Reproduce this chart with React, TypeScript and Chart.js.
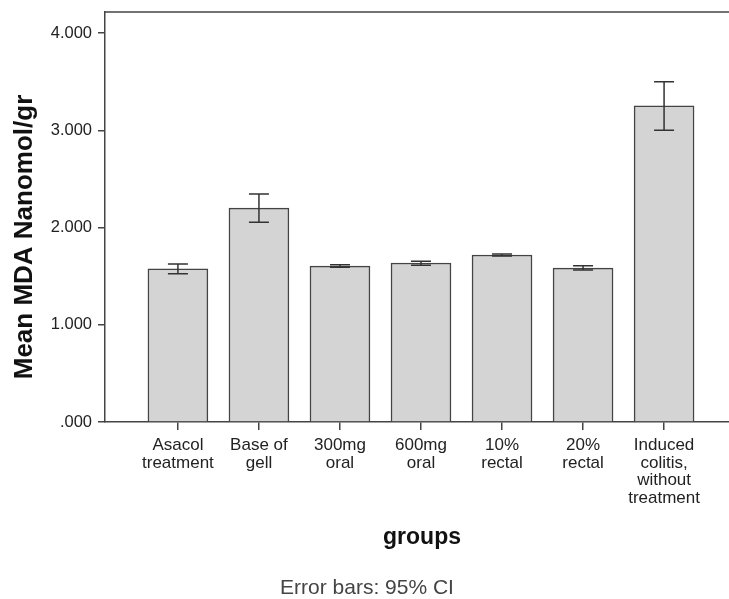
import React, { useEffect, useRef } from "react";
import { Chart, registerables } from "chart.js";

Chart.register(...registerables);

const categories: string[][] = [
  ["Asacol", "treatment"],
  ["Base of", "gell"],
  ["300mg", "oral"],
  ["600mg", "oral"],
  ["10%", "rectal"],
  ["20%", "rectal"],
  ["Induced", "colitis,", "without", "treatment"],
];
const meanValues = [1.575, 2.2, 1.603, 1.635, 1.717, 1.583, 3.25];
const ciLower = [1.525, 2.055, 1.59, 1.612, 1.707, 1.563, 3.0];
const ciUpper = [1.625, 2.345, 1.616, 1.652, 1.727, 1.607, 3.5];
const yTicks = [0, 1, 2, 3, 4];
const yTickLabels = [".000", "1.000", "2.000", "3.000", "4.000"];

const FONT = "Arial, 'Liberation Sans', sans-serif";

const decorPlugin = {
  id: "decor",
  afterDatasetsDraw(chart: any) {
    const { ctx, chartArea, scales } = chart;
    const xs = scales.x;
    const ys = scales.y;
    ctx.save();
    ctx.strokeStyle = "#333";
    ctx.lineWidth = 1.5;
    meanValues.forEach((_, i) => {
      const x = xs.getPixelForValue(i + 1);
      const yl = ys.getPixelForValue(ciLower[i]);
      const yu = ys.getPixelForValue(ciUpper[i]);
      ctx.beginPath();
      ctx.moveTo(x, yl);
      ctx.lineTo(x, yu);
      ctx.moveTo(x - 10, yl);
      ctx.lineTo(x + 10, yl);
      ctx.moveTo(x - 10, yu);
      ctx.lineTo(x + 10, yu);
      ctx.stroke();
    });
    ctx.strokeStyle = "#444";
    ctx.lineWidth = 1.5;
    ctx.beginPath();
    ctx.moveTo(chartArea.left, chartArea.top);
    ctx.lineTo(chartArea.right, chartArea.top);
    ctx.lineTo(chartArea.right, chartArea.bottom);
    ctx.stroke();
    ctx.restore();
  },
  afterDraw(chart: any) {
    const { ctx } = chart;
    ctx.save();
    ctx.fillStyle = "#111";
    ctx.font = `bold 26px ${FONT}`;
    ctx.textAlign = "center";
    ctx.textBaseline = "middle";
    ctx.save();
    ctx.translate(25, 237);
    ctx.rotate(-Math.PI / 2);
    ctx.fillText("Mean MDA Nanomol/gr", 0, 0);
    ctx.restore();
    ctx.font = `bold 23px ${FONT}`;
    ctx.fillText("groups", 422, 538);
    ctx.fillStyle = "#444";
    ctx.font = `21px ${FONT}`;
    ctx.fillText("Error bars: 95% CI", 367, 588);
    ctx.restore();
  },
};

export default function App() {
  const canvasRef = useRef<HTMLCanvasElement | null>(null);

  useEffect(() => {
    if (!canvasRef.current) return;
    const chart = new Chart(canvasRef.current, {
      type: "bar",
      data: {
        datasets: [
          {
            data: meanValues.map((v, i) => ({ x: i + 1, y: v })),
            backgroundColor: "#d4d4d4",
            borderColor: "#444",
            borderWidth: 1.5,
            barThickness: 60,
          },
        ],
      },
      options: {
        animation: false,
        responsive: false,
        maintainAspectRatio: false,
        layout: { padding: { left: 0, right: 8, top: 12, bottom: 0 } },
        plugins: { legend: { display: false }, tooltip: { enabled: false } },
        scales: {
          x: {
            type: "linear",
            min: 0.1,
            max: 7.9,
            offset: false,
            afterBuildTicks: (scale: any) => {
              scale.ticks = categories.map((_, i) => ({ value: i + 1 }));
            },
            afterFit: (scale: any) => {
              scale.height = 177;
              scale.paddingLeft = 0;
              scale.paddingRight = 0;
            },
            ticks: {
              autoSkip: false,
              maxRotation: 0,
              minRotation: 0,
              padding: 7,
              color: "#222",
              font: { family: FONT, size: 17, lineHeight: 1.03 },
              callback: (v: any) => categories[Number(v) - 1] ?? "",
            },
            grid: {
              offset: false,
              drawOnChartArea: false,
              drawTicks: true,
              tickLength: 8,
              color: "#444",
              lineWidth: 1.5,
            },
            border: { color: "#444", width: 1.5 },
          },
          y: {
            min: 0,
            max: 4.216,
            afterBuildTicks: (scale: any) => {
              scale.ticks = yTicks.map((v) => ({ value: v }));
            },
            afterFit: (scale: any) => {
              scale.width = 105;
              scale.paddingTop = 0;
              scale.paddingBottom = 0;
            },
            ticks: {
              padding: 6,
              color: "#222",
              font: { family: FONT, size: 16.5 },
              callback: (v: any) => yTickLabels[yTicks.indexOf(Number(v))] ?? "",
            },
            grid: {
              drawOnChartArea: false,
              drawTicks: true,
              tickLength: 7,
              color: "#444",
              lineWidth: 1.5,
            },
            border: { color: "#444", width: 1.5 },
          },
        },
      },
      plugins: [decorPlugin],
    } as any);
    return () => chart.destroy();
  }, []);

  return (
    <div
      style={{
        position: "fixed",
        left: 0,
        top: 0,
        width: 729,
        height: 599,
        overflow: "hidden",
        background: "#fff",
      }}
    >
      <canvas ref={canvasRef} width={745} height={599} style={{ width: 745, height: 599, display: "block" }} />
    </div>
  );
}
